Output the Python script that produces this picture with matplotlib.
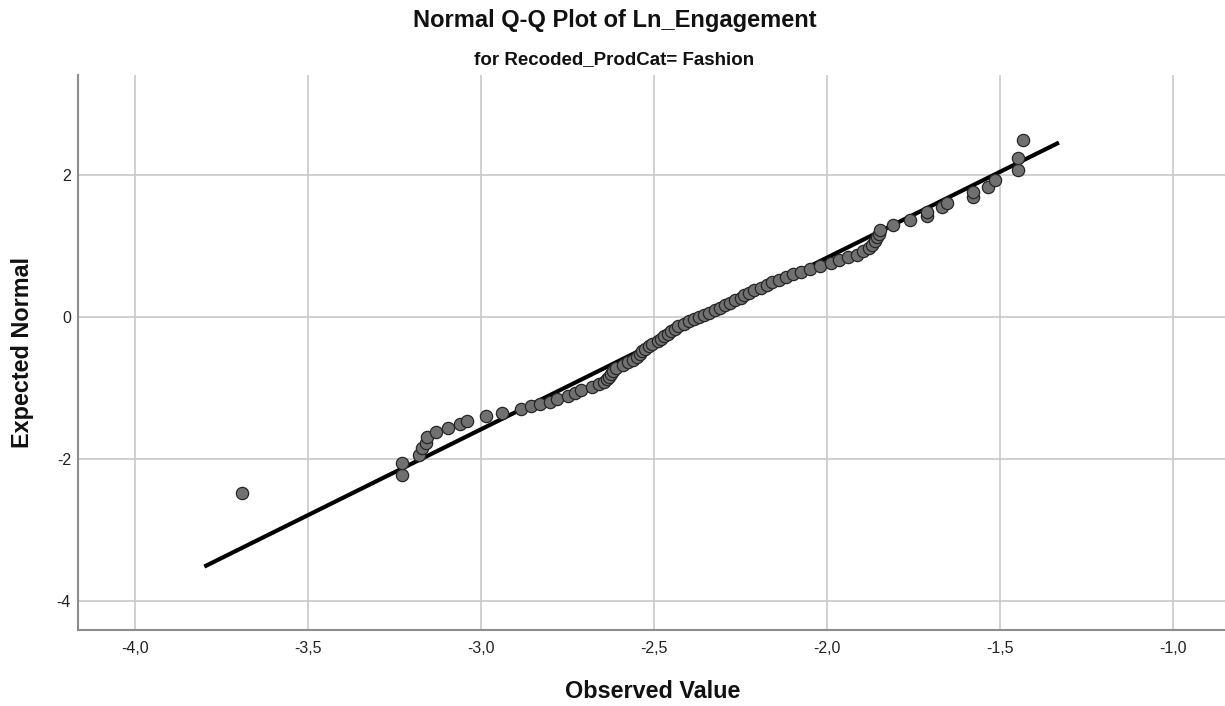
import matplotlib
matplotlib.use("Agg")
import matplotlib.pyplot as plt
from matplotlib.ticker import FuncFormatter

plt.rcParams['font.family'] = ['Liberation Sans', 'DejaVu Sans']

# Observed Ln_Engagement values (sorted) and their expected normal scores
observed = [
    -3.69, -3.23, -3.23, -3.18, -3.17, -3.16, -3.155, -3.13, -3.095, -3.06,
    -3.04, -2.985, -2.94, -2.885, -2.855, -2.83, -2.80, -2.78, -2.75, -2.73,
    -2.71, -2.68, -2.66, -2.645, -2.635, -2.63, -2.625, -2.62, -2.61, -2.59,
    -2.575, -2.56, -2.55, -2.54, -2.535, -2.525, -2.515, -2.505, -2.49, -2.48,
    -2.47, -2.46, -2.45, -2.44, -2.43, -2.415, -2.40, -2.385, -2.37, -2.355,
    -2.34, -2.325, -2.31, -2.295, -2.28, -2.265, -2.25, -2.24, -2.225, -2.21,
    -2.19, -2.175, -2.16, -2.14, -2.12, -2.10, -2.075, -2.05, -2.02, -1.99,
    -1.965, -1.94, -1.915, -1.895, -1.88, -1.87, -1.862, -1.855, -1.85, -1.847,
    -1.81, -1.76, -1.71, -1.71, -1.668, -1.653, -1.578, -1.578, -1.535, -1.514,
    -1.448, -1.448, -1.434,
]
expected = [
    -2.48, -2.23, -2.06, -1.94, -1.85, -1.77, -1.69, -1.62, -1.56, -1.51,
    -1.46, -1.40, -1.35, -1.30, -1.26, -1.23, -1.19, -1.15, -1.11, -1.07,
    -1.03, -0.99, -0.95, -0.92, -0.88, -0.84, -0.80, -0.76, -0.72, -0.68,
    -0.64, -0.60, -0.56, -0.52, -0.48, -0.45, -0.41, -0.38, -0.34, -0.31,
    -0.27, -0.24, -0.20, -0.17, -0.13, -0.10, -0.06, -0.03, 0.00, 0.03,
    0.06, 0.10, 0.13, 0.17, 0.20, 0.24, 0.27, 0.31, 0.34, 0.38,
    0.41, 0.45, 0.49, 0.52, 0.56, 0.60, 0.64, 0.68, 0.72, 0.76,
    0.80, 0.84, 0.88, 0.93, 0.97, 1.02, 1.07, 1.12, 1.17, 1.23,
    1.29, 1.36, 1.42, 1.48, 1.55, 1.61, 1.69, 1.76, 1.83, 1.93,
    2.07, 2.24, 2.49,
]

# Reference line of the fitted normal distribution
line_x = [-3.80, -1.33]
line_mean = -2.346
line_sd = 0.4137
line_y = [(v - line_mean) / line_sd for v in line_x]

x_ticks = [-4.0, -3.5, -3.0, -2.5, -2.0, -1.5, -1.0]
y_ticks = [-4, -2, 0, 2]

fig = plt.figure(figsize=(12.25, 7.06), dpi=100)
ax = fig.add_axes([0.0637, 0.1076, 0.9363, 0.7862])

ax.set_xlim(-4.165, -0.850)
ax.set_ylim(-4.408, 3.408)

ax.set_xticks(x_ticks)
ax.set_yticks(y_ticks)
ax.xaxis.set_major_formatter(FuncFormatter(lambda v, p: f"{v:.1f}".replace('.', ',')))
ax.yaxis.set_major_formatter(FuncFormatter(lambda v, p: f"{v:.0f}"))
ax.tick_params(length=0, labelsize=11.5, colors='#222222')
ax.tick_params(axis='x', pad=8)
ax.tick_params(axis='y', pad=5)

ax.grid(True, color='#c8c8c8', linewidth=1.2)
ax.set_axisbelow(True)
for side in ('top', 'right'):
    ax.spines[side].set_visible(False)
for side in ('left', 'bottom'):
    ax.spines[side].set_color('#8c8c8c')
    ax.spines[side].set_linewidth(1.5)

ax.plot(line_x, line_y, color='black', linewidth=3.0, solid_capstyle='butt', zorder=3)
ax.scatter(observed, expected, s=78, facecolor='#707070', edgecolor='#262626',
           linewidth=0.9, zorder=4)

fig.text(0.502, 0.971, "Normal Q-Q Plot of Ln_Engagement", ha='center', va='center',
         fontsize=17, fontweight='bold', color='#111111')
fig.text(0.501, 0.915, "for Recoded_ProdCat= Fashion", ha='center', va='center',
         fontsize=13.5, fontweight='bold', color='#111111')
fig.text(0.533, 0.020, "Observed Value", ha='center', va='center',
         fontsize=16.8, fontweight='bold', color='#111111')
fig.text(0.018, 0.500, "Expected Normal", ha='center', va='center', rotation=90,
         fontsize=16.8, fontweight='bold', color='#111111')

fig.savefig("out.png", dpi=100)
